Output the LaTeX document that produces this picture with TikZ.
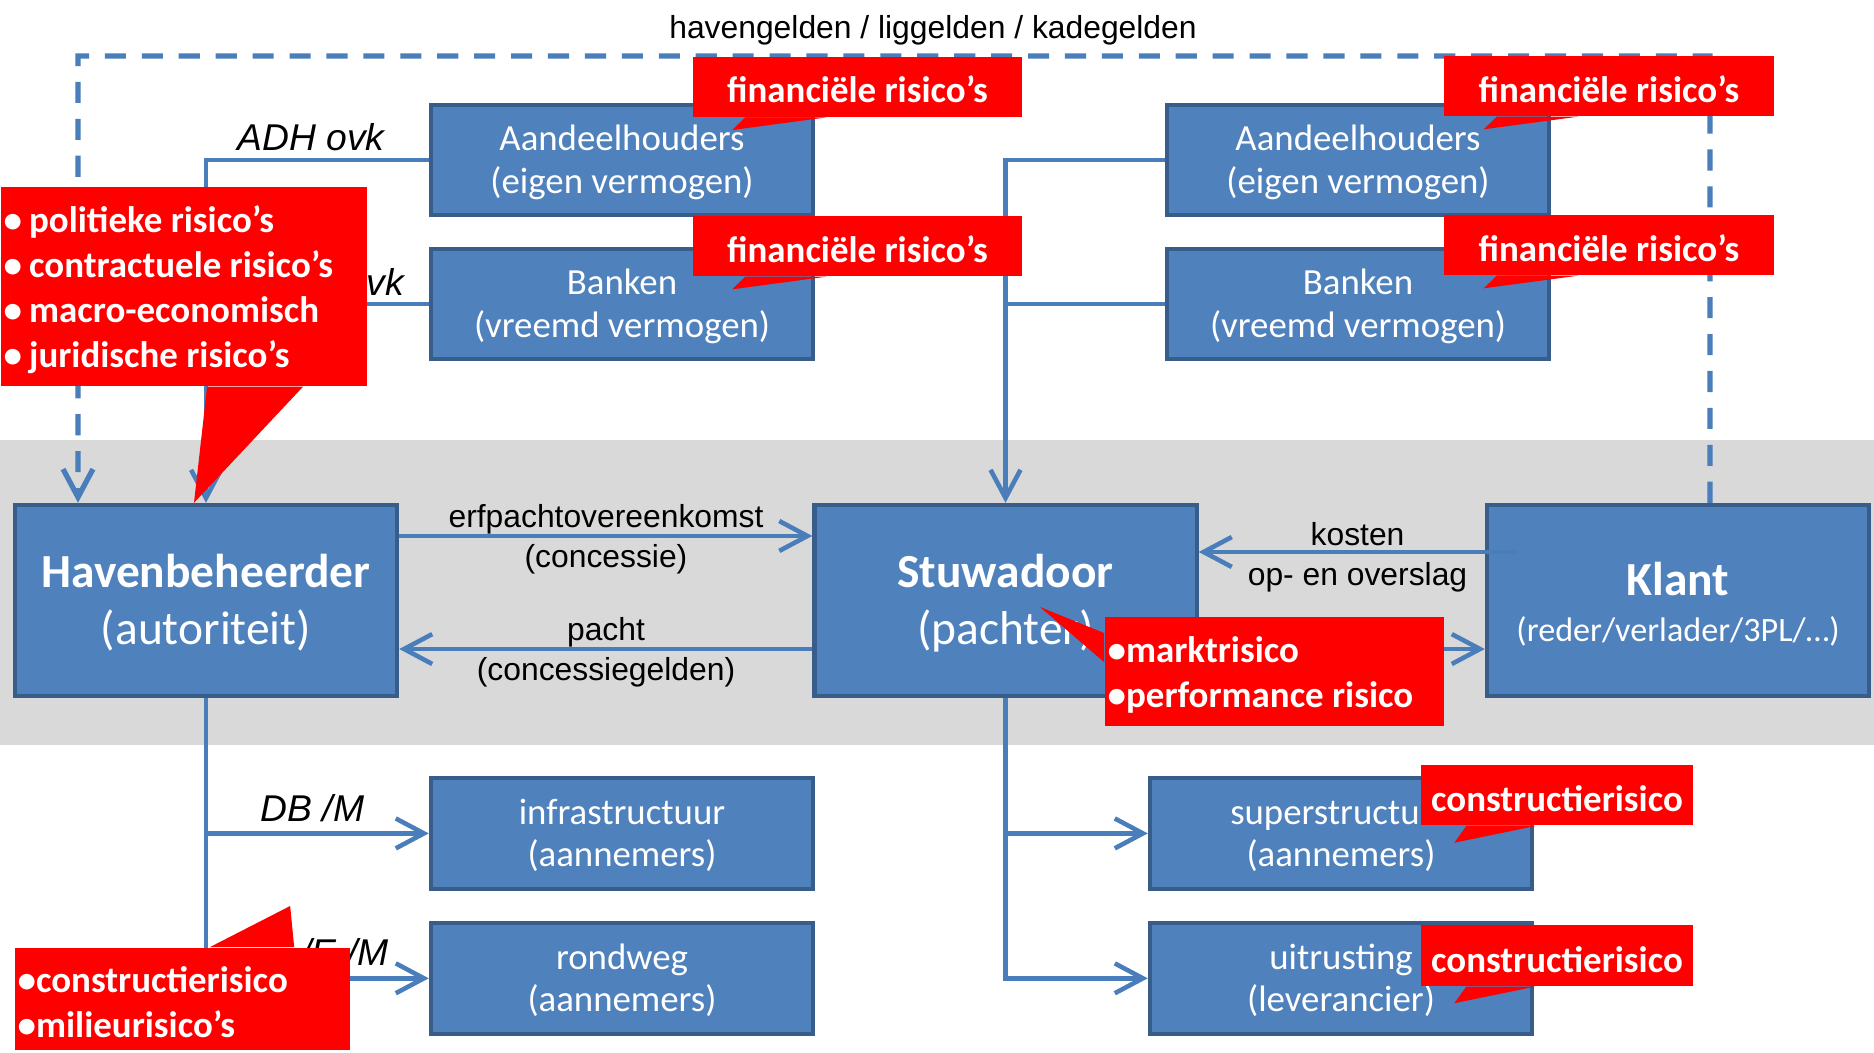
\documentclass[tikz,border=0pt]{standalone}
\usepackage{fontspec}
\setmainfont{Liberation Sans}
\newfontfamily\carlito{Carlito}
\usetikzlibrary{arrows.meta}

\definecolor{vakblauw}{HTML}{4F81BD}
\definecolor{randblauw}{HTML}{385D8A}
\definecolor{lijnblauw}{HTML}{4A7EBB}
\definecolor{bandgrijs}{HTML}{D9D9D9}
\definecolor{risicorood}{HTML}{FF0000}

\tikzset{
  bovenruimte/.style={execute at begin node={\rule{0pt}{#1}}},
  onderruimte/.style={execute at end node={\rule[-#1]{0pt}{#1}}},
  partij/.style={draw=randblauw, fill=vakblauw, line width=1.2pt, text=white,
    align=flush center, text width=3.82cm, inner sep=0pt, minimum width=3.82cm, minimum height=1.106cm,
    font=\carlito\fontsize{10.47}{12.1}\selectfont, bovenruimte=.9em, onderruimte=.25em},
  hoofdpartij/.style={partij, minimum height=1.91cm,
    font=\carlito\fontsize{13.5}{16.2}\selectfont, bovenruimte=.9em},
  stroom/.style={draw=lijnblauw, line width=1.3pt},
  geldstroom/.style={stroom, line width=1.5pt, dash pattern=on 6pt off 4.5pt},
  label/.style={inner sep=0pt, align=center, font=\fontsize{9.05}{11.4}\selectfont},
  contract/.style={inner sep=0pt, font=\itshape\fontsize{10.6}{12}\selectfont},
  risico/.style={fill=risicorood, text=white, inner sep=0pt,
    font=\carlito\bfseries\fontsize{10.5}{12.8}\selectfont, bovenruimte=.89em},
  >={Straight Barb[length=8pt,width=8.5pt]}
}

\begin{document}
\begin{tikzpicture}[x=0.01cm, y=-0.01cm]
\useasboundingbox (0,0) rectangle (1874,1052);
% grijze band
\fill[bandgrijs] (0,440) rectangle (1874,745);

% partijen
\node[partij] (ahL) at (622,160) {Aandeelhouders\\(eigen vermogen)};
\node[partij] (bkL) at (622,304) {Banken\\(vreemd vermogen)};
\node[partij] (ahR) at (1358,160) {Aandeelhouders\\(eigen vermogen)};
\node[partij] (bkR) at (1358,304) {Banken\\(vreemd vermogen)};
\node[hoofdpartij] (haven) at (206,600.5) {\textbf{Havenbeheerder}\\(autoriteit)};
\node[hoofdpartij] (stuw) at (1005.5,600.5) {\textbf{Stuwadoor}\\(pachter)};
\node[hoofdpartij, bovenruimte=1.02em] (klant) at (1678,600.5) {\textbf{Klant}\\[-3.2pt]{\fontsize{9.7}{12}\selectfont(reder/verlader/3PL/…)}};
\node[partij] (infra) at (622,833.4) {infrastructuur\\(aannemers)};
\node[partij] (rond) at (622,978.3) {rondweg\\(aannemers)};
\node[partij] (super) at (1341,833.4) {superstructuur\\(aannemers)};
\node[partij] (uitr) at (1341,978.3) {uitrusting\\(leverancier)};

% geldstroom
\coordinate (geldR) at (1710,56);
\coordinate (geldL) at (78,56);
\draw[geldstroom,->] ([xshift=.32cm]klant.north) -- (geldR) -- (geldL) -- (geldL |- haven.north);

% stromen
\draw[stroom,->] (ahL.west) -| (haven.north);
\draw[stroom] (bkL.west) -- (bkL.west -| haven.north);
\draw[stroom,->] (ahR.west) -| (stuw.north);
\draw[stroom] (bkR.west) -- (bkR.west -| stuw.north);
\draw[stroom,->] (haven.south) |- (rond.west);
\draw[stroom,->] (haven.south |- infra.west) -- (infra.west);
\draw[stroom,->] (stuw.south) |- (uitr.west);
\draw[stroom,->] (stuw.south |- super.west) -- (super.west);
\draw[stroom,->] ([yshift=.645cm]haven.east) -- ([yshift=.645cm]stuw.west);
\draw[stroom,->] ([yshift=-.485cm]stuw.west) -- ([yshift=-.485cm]haven.east);
\draw[stroom,->] ([xshift=.33cm,yshift=.485cm]klant.west) -- ([yshift=.485cm]stuw.east);
\draw[stroom,->] ([yshift=-.485cm]stuw.east) -- ([yshift=-.485cm]klant.west);

% labels
\node[label] (geld) at (933,30.5) {havengelden / liggelden / kadegelden};
\node[contract] (adh) at (311,137) {ADH ovk};
\node[contract] (ovk) at (385,282) {vk};
\node[label] (erf) at (606,539) {erfpachtovereenkomst\\(concessie)};
\node[label] (pacht) at (606,652) {pacht\\(concessiegelden)};
\node[label] (kost) at (1357.5,557) {kosten\\op- en overslag};
\node[contract] (db) at (312.5,808) {DB /M};
\node[contract] (em) at (345,952) {/E /M};

% risico's
\node[risico, minimum width=3.29cm, minimum height=0.6cm] (finL1) at (857.5,86.7) {financiële risico’s};
\node[risico, minimum width=3.29cm, minimum height=0.6cm] (finL2) at (857.5,246) {financiële risico’s};
\node[risico, minimum width=3.29cm, minimum height=0.6cm] (finR1) at (1609,86) {financiële risico’s};
\node[risico, minimum width=3.29cm, minimum height=0.6cm] (finR2) at (1609,245) {financiële risico’s};
\foreach \r in {finL1,finL2,finR1,finR2}
  \fill[risicorood] ([xshift=.53cm]\r.south west) -- ([xshift=.40cm,yshift=-.126cm]\r.south west) -- ([xshift=1.34cm]\r.south west) -- cycle;

\node[risico, bovenruimte=0pt, minimum width=2.72cm, minimum height=0.604cm] (bouwS) at (1557,795.2) {constructierisico};
\node[risico, bovenruimte=0pt, minimum width=2.72cm, minimum height=0.604cm] (bouwU) at (1557,955.7) {constructierisico};
\foreach \r in {bouwS,bouwU}
  \fill[risicorood] ([xshift=.46cm]\r.south west) -- ([xshift=.34cm,yshift=-.166cm]\r.south west) -- ([xshift=1.146cm]\r.south west) -- cycle;

\node[risico, bovenruimte=.83em, anchor=north west, align=flush left, text width=3.6cm, inner xsep=.03cm, minimum height=1.99cm] (risHaven) at (0,186)
  {•\hspace{2pt}politieke risico’s\\•\hspace{2pt}contractuele risico’s\\•\hspace{2pt}macro-economisch\\•\hspace{2pt}juridische risico’s};
\fill[risicorood] ([xshift=2.07cm]risHaven.south west) -- ([xshift=-.12cm]haven.north) -- ([xshift=3.03cm]risHaven.south west) -- cycle;

\node[risico, bovenruimte=.7em, anchor=north west, align=flush left, text width=3.29cm, inner xsep=.03cm, minimum height=1.02cm] (risBouw) at (14,947)
  {•constructierisico\\•milieurisico’s};
\fill[risicorood] ([xshift=1.96cm]risBouw.north west) -- ([xshift=2.76cm,yshift=.41cm]risBouw.north west) -- ([xshift=2.80cm]risBouw.north west) -- cycle;

\node[risico, anchor=north west, align=flush left, text width=3.33cm, inner xsep=.03cm, minimum height=1.09cm] (risStuw) at (1104,616)
  {•marktrisico\\•performance risico};
\fill[risicorood] ([yshift=-.17cm]risStuw.north west) -- ([xshift=-.64cm,yshift=.09cm]risStuw.north west) -- ([yshift=-.46cm]risStuw.north west) -- cycle;
\end{tikzpicture}
\end{document}
